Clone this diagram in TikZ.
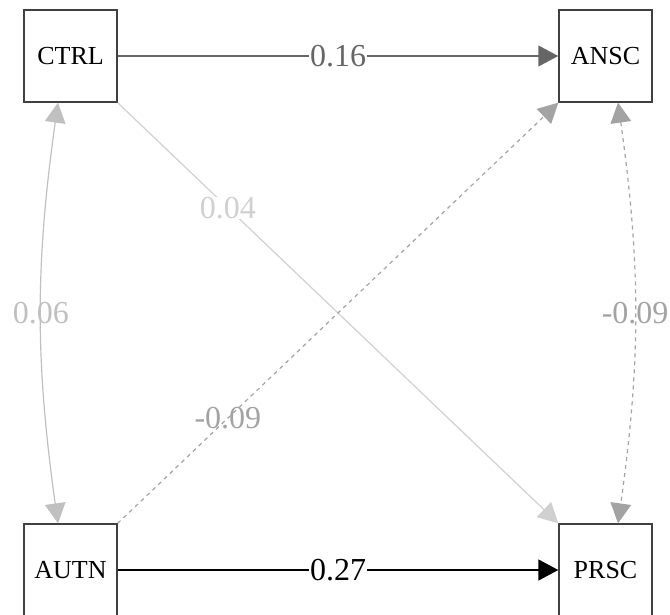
\documentclass[tikz,border=0pt]{standalone}
\usepackage{fontspec}
\setmainfont{Liberation Serif}
\usetikzlibrary{arrows.meta}

\definecolor{PathDark}{HTML}{666666}
\definecolor{PathLight}{HTML}{D0D0D0}
\definecolor{CovLight}{HTML}{C0C0C0}
\definecolor{NegGray}{HTML}{A3A3A3}

\tikzset{
Var/.style={draw=black!75, fill=white, rectangle, inner sep=0pt,
        minimum width=69.75pt, minimum height=69pt, line width=1pt,
        font=\fontsize{19.5}{20}\selectfont},
PathLine/.style={arrows={-Triangle[length=15pt,width=15.5pt]}, line width=1.5pt},
CovLine/.style={arrows={Triangle[length=15pt,width=15.5pt]-Triangle[length=15pt,width=15.5pt]}, line width=0.9pt},
PathLabel/.style={font=\fontsize{24}{24}\selectfont, inner sep=1pt},
}

\begin{document}
\begin{tikzpicture}[x=0.75pt,y=-0.75pt]
	\useasboundingbox (0,0) rectangle (670,614);

	\node[Var] (CTRL) at (70.5,56) {CTRL};
	\node[Var] (ANSC) at (605.5,56) {ANSC};
	\node[Var] (AUTN) at (70.5,570) {AUTN};
	\node[Var] (PRSC) at (605.5,570) {PRSC};

	% regressions
	\draw[PathLine, PathDark] (CTRL.east) -- (ANSC.west)
		node[PathLabel, fill=white, pos=0.5] {0.16};
	\draw[PathLine, black, line width=2pt] (AUTN.east) -- (PRSC.west)
		node[PathLabel, fill=white, pos=0.5] {0.27};
	\draw[PathLine, PathLight, line width=0.9pt] (CTRL.south east) -- (PRSC.north west)
		node[PathLabel, fill=white, inner sep=0pt, pos=0.25] {0.04};
	\draw[PathLine, NegGray, dashed, line width=0.9pt] (AUTN.north east) -- (ANSC.south west)
		node[PathLabel, pos=0.25] {-0.09};

	% covariances
	\draw[CovLine, CovLight] (CTRL.-105) to[bend right=8]
		node[PathLabel, pos=0.5] {0.06} (AUTN.105);
	\draw[CovLine, NegGray, dashed] (ANSC.-75) to[bend left=8]
		node[PathLabel, pos=0.5] {-0.09} (PRSC.75);
\end{tikzpicture}
\end{document}
